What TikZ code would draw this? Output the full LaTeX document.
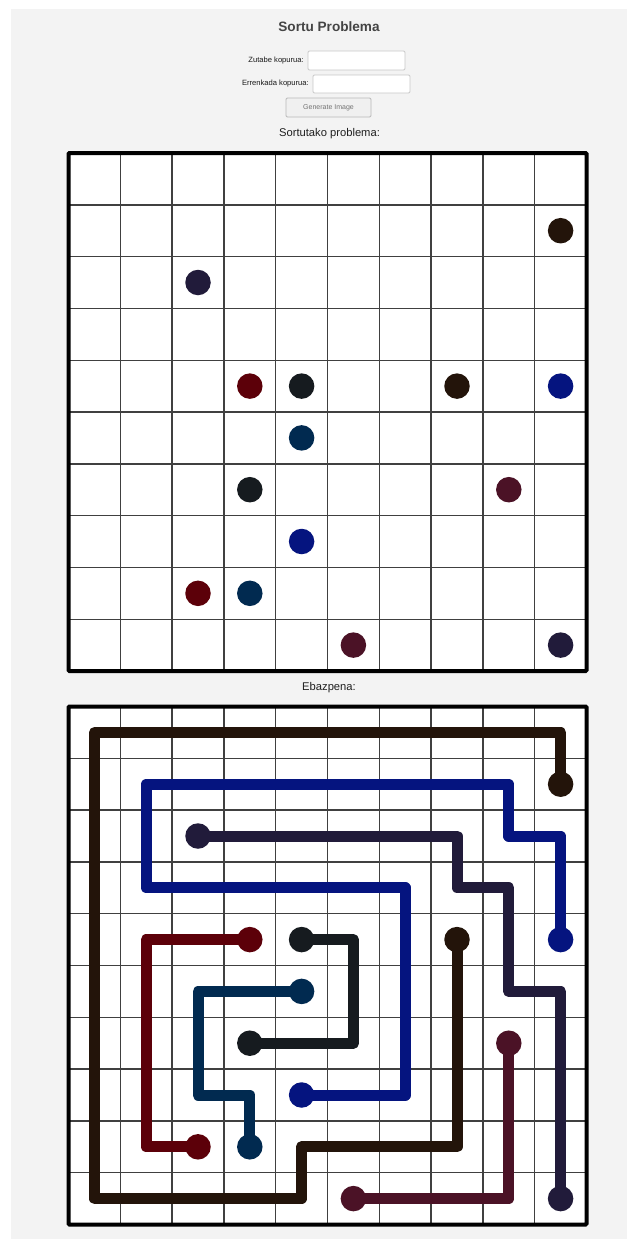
\documentclass[tikz,border=0pt]{standalone}
\usepackage{fontspec}
\setmainfont{Liberation Sans}
\definecolor{cbg}{HTML}{F3F3F3}
\definecolor{cbrown}{HTML}{23140A}
\definecolor{cpurple}{HTML}{211B3A}
\definecolor{cred}{HTML}{5C0009}
\definecolor{cblack}{HTML}{161B1F}
\definecolor{cblue}{HTML}{05147F}
\definecolor{cteal}{HTML}{012A50}
\definecolor{cmaroon}{HTML}{4B1226}
\definecolor{ctitle}{HTML}{444444}
\pgfdeclarelayer{front}
\pgfsetlayers{main,front}
\begin{document}
\begin{tikzpicture}[x=1pt,y=-1pt,
  gridline/.style={line width=1.4pt, draw=black!75},
  gridborder/.style={line width=4pt, draw=black, rounded corners=1pt},
  dot/.style={circle, inner sep=0pt, minimum size=25.5pt, fill=#1, draw=none},
  flow/.style={line width=11pt, draw=#1, line join=round},
  inbox/.style={draw=black!22, fill=white, line width=0.8pt, rounded corners=1.2pt},
  btn/.style={draw=black!28, fill=black!6, line width=0.8pt, rounded corners=1.2pt},
  lbl/.style={font=\fontsize{7.6}{9}\selectfont, text=black!90, inner sep=0pt},
  head/.style={font=\fontsize{11.2}{13}\selectfont, text=black!88, inner sep=0pt}
]
\useasboundingbox (0,0) rectangle (635,1239);
\fill[white] (0,0) rectangle (635,1239);
\fill[cbg] (11,9) rectangle (627,1239);

% header
\node[font=\bfseries\fontsize{13.6}{15}\selectfont, text=ctitle, inner sep=0pt] (title) at (329,27) {Sortu Problema};
\node[lbl, anchor=east] (lz) at (304,61) {Zutabe kopurua:};
\draw[inbox] (308,51) rectangle (405,70);
\node[lbl, anchor=east] (le) at (309,84) {Errenkada kopurua:};
\draw[inbox] (313,75) rectangle (410,93);
\node[btn, minimum width=85pt, minimum height=19pt, font=\fontsize{7}{8}\selectfont, text=black!55, inner sep=0pt] (gen) at (328.5,107.5) {Generate Image};
\node[head] (h1) at (329.5,134) {Sortutako problema:};
\node[head] (h2) at (329,688) {Ebazpena:};

% grids
\fill[white] (68.5,153) rectangle ++(518,518);
\fill[white] (68.5,706.5) rectangle ++(518,518);
\foreach \i in {1,...,9} {
  \draw[gridline] ({68.5+\i*51.8},153) -- ++(0,518);
  \draw[gridline] (68.5,{153+\i*51.8}) -- ++(518,0);
  \draw[gridline] ({68.5+\i*51.8},706.5) -- ++(0,518);
  \draw[gridline] (68.5,{706.5+\i*51.8}) -- ++(518,0);
}
\draw[gridborder] (68.5,153) rectangle ++(518,518);
\draw[gridborder] (68.5,706.5) rectangle ++(518,518);

\foreach \c in {0,...,9} {
  \foreach \r in {0,...,9} {
    \coordinate (t-\c-\r) at ({68.5+(\c+0.5)*51.8},{153+(\r+0.5)*51.8});
    \coordinate (b-\c-\r) at ({68.5+(\c+0.5)*51.8},{706.5+(\r+0.5)*51.8});
  }
}

% problem dots
\node[dot=cbrown]  (tbr1) at (t-9-1) {};
\node[dot=cbrown]  (tbr2) at (t-7-4) {};
\node[dot=cpurple] (tpu1) at (t-2-2) {};
\node[dot=cpurple] (tpu2) at (t-9-9) {};
\node[dot=cred]    (tre1) at (t-3-4) {};
\node[dot=cred]    (tre2) at (t-2-8) {};
\node[dot=cblack]  (tbk1) at (t-4-4) {};
\node[dot=cblack]  (tbk2) at (t-3-6) {};
\node[dot=cblue]   (tbl1) at (t-9-4) {};
\node[dot=cblue]   (tbl2) at (t-4-7) {};
\node[dot=cteal]   (tte1) at (t-4-5) {};
\node[dot=cteal]   (tte2) at (t-3-8) {};
\node[dot=cmaroon] (tma1) at (t-8-6) {};
\node[dot=cmaroon] (tma2) at (t-5-9) {};

% solution dots (on the front layer, above the paths)
\begin{pgfonlayer}{front}
\node[dot=cbrown]  (bbr1) at (b-9-1) {};
\node[dot=cbrown]  (bbr2) at (b-7-4) {};
\node[dot=cpurple] (bpu1) at (b-2-2) {};
\node[dot=cpurple] (bpu2) at (b-9-9) {};
\node[dot=cred]    (bre1) at (b-3-4) {};
\node[dot=cred]    (bre2) at (b-2-8) {};
\node[dot=cblack]  (bbk1) at (b-4-4) {};
\node[dot=cblack]  (bbk2) at (b-3-6) {};
\node[dot=cblue]   (bbl1) at (b-9-4) {};
\node[dot=cblue]   (bbl2) at (b-4-7) {};
\node[dot=cteal]   (bte1) at (b-4-5) {};
\node[dot=cteal]   (bte2) at (b-3-8) {};
\node[dot=cmaroon] (bma1) at (b-8-6) {};
\node[dot=cmaroon] (bma2) at (b-5-9) {};
\end{pgfonlayer}

% solution paths
\draw[flow=cbrown]  (bbr1.center) -- (b-9-0) -- (b-0-0) -- (b-0-9) -- (b-4-9) -- (b-4-8) -- (b-7-8) -- (bbr2.center);
\draw[flow=cblue]   (bbl2.center) -- (b-6-7) -- (b-6-3) -- (b-1-3) -- (b-1-1) -- (b-8-1) -- (b-8-2) -- (b-9-2) -- (bbl1.center);
\draw[flow=cpurple] (bpu1.center) -- (b-7-2) -- (b-7-3) -- (b-8-3) -- (b-8-5) -- (b-9-5) -- (bpu2.center);
\draw[flow=cred]    (bre1.center) -- (b-1-4) -- (b-1-8) -- (bre2.center);
\draw[flow=cblack]  (bbk1.center) -- (b-5-4) -- (b-5-6) -- (bbk2.center);
\draw[flow=cteal]   (bte1.center) -- (b-2-5) -- (b-2-7) -- (b-3-7) -- (bte2.center);
\draw[flow=cmaroon] (bma1.center) -- (b-8-9) -- (bma2.center);
\end{tikzpicture}
\end{document}
